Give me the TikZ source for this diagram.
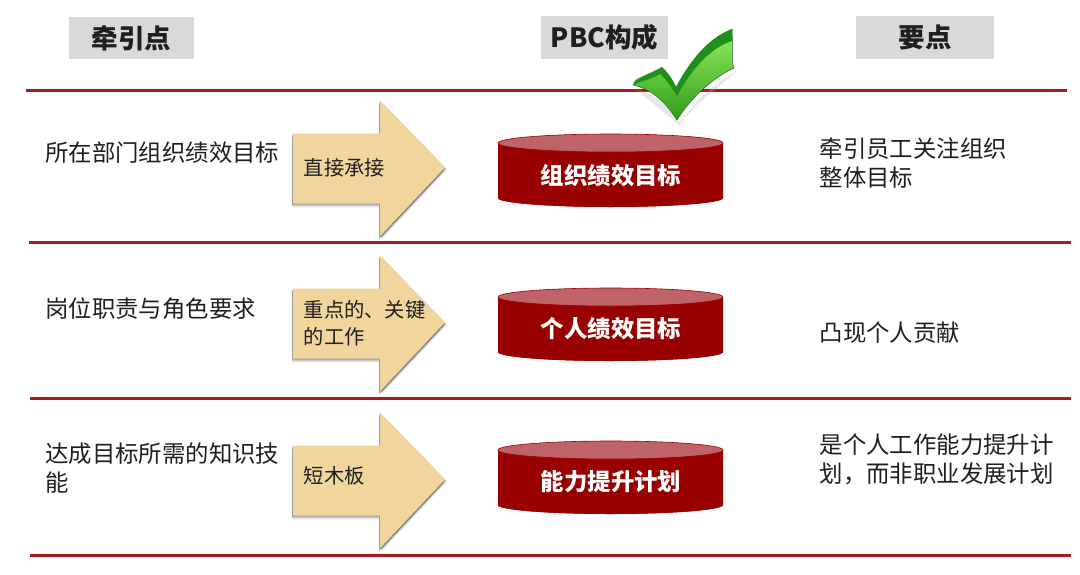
\documentclass[tikz,border=0pt]{standalone}
\usepackage{fontspec}
\setmainfont{Noto Sans CJK SC}
\usetikzlibrary{shadings}
\definecolor{rulered}{HTML}{A31D1D}
\definecolor{cylred}{HTML}{990000}
\definecolor{cyltop}{HTML}{BE6468}
\definecolor{tan}{HTML}{F0D69C}
\definecolor{hdr}{HTML}{D9D9D9}
\definecolor{ink}{HTML}{1F1F1F}
\definecolor{chkband}{HTML}{1F8F1C}
\definecolor{chklight}{HTML}{95EE62}
\definecolor{chkdark}{HTML}{2F9C1A}
\tikzset{
  x=1pt,y=-1pt,
  sep/.style={draw=rulered,line width=3pt},
  hdrbox/.style={fill=hdr,inner sep=0pt,font=\fontsize{26.5}{26}\selectfont\bfseries,text=ink},
  body/.style={anchor=north west,inner sep=0pt,align=left,font=\fontsize{23.4}{33}\selectfont,text=ink},
  arrowtext/.style={anchor=west,inner sep=0pt,align=left,font=\fontsize{20.3}{26.5}\selectfont,text=ink},
  cyltext/.style={inner sep=0pt,text=white,font=\fontsize{23.4}{24}\selectfont\bfseries},
}
\newcommand{\bigarrow}[1]{%
  \begin{scope}[yshift=-#1pt]
    \foreach \o/\a in {5/.05,4/.07,3/.09,2/.11,1/.13}{
      \fill[black,opacity=\a,xshift=-.8pt,yshift=-\o pt*.8] (293,-34)--(380,-34)--(380,-67)--(445,0)--(380,69)--(380,36)--(293,36)--cycle;
      \fill[black,opacity=\a,xshift=\o pt*.4,yshift=-\o pt*.5] (380,-67)--(445,0)--(380,69)--cycle;
    }
    \fill[tan] (293,-34)--(380,-34)--(380,-67)--(445,0)--(380,69)--(380,36)--(293,36)--cycle;
  \end{scope}}
\newcommand{\cyl}[1]{%
  \begin{scope}[yshift=-#1pt]
    \fill[cylred] (498,-27) -- (498,28) arc[start angle=180,end angle=360,x radius=112.5,y radius=-9] -- (723,-27) -- cycle;
    \fill[cylred] (498,28) arc[start angle=180,end angle=0,x radius=112.5,y radius=9] -- cycle;
    \fill[cylred] (498,-27) -- (723,-27) -- (723,28) -- (498,28) -- cycle;
    \draw[fill=cyltop,draw=cylred,line width=.6pt] (610.5,-27) ellipse[x radius=112.5,y radius=9];
  \end{scope}}
\begin{document}
\begin{tikzpicture}
\useasboundingbox (0,0) rectangle (1080,574);
\fill[white] (0,0) rectangle (1080,574);

% header boxes
\node[hdrbox,minimum width=125pt,minimum height=42pt] (h1) at (131.5,38) {\raisebox{-1pt}{牵引点}};
\node[hdrbox,minimum width=127pt,minimum height=43pt] (h2) at (604.5,37.5) {\raisebox{-.5pt}{PBC构成}};
\node[hdrbox,minimum width=138pt,minimum height=43pt] (h3) at (925,37.5) {\raisebox{-.5pt}{要点}};

% separators
\draw[sep] (26,90) -- (1067,90);
\draw[sep] (29,242) -- (1071,242);
\draw[sep] (30,398) -- (1071,398);
\draw[sep] (30,555) -- (1071,555);

% arrows
\bigarrow{167.5}
\bigarrow{322.5}
\bigarrow{479.5}

% cylinders
\cyl{170}
\cyl{324}
\cyl{477}
\node[cyltext] (c1) at (611,176) {组织绩效目标};
\node[cyltext] (c2) at (611,329) {个人绩效目标};
\node[cyltext] (c3) at (611,482) {能力提升计划};

% check mark
\fill[black!30,opacity=.3] (637,90) .. controls (655,93) and (668,106) .. (679,123) .. controls (695,102) and (715,82) .. (737,71) -- (700,102) -- (679,125) -- cycle;
\shade[top color=chklight,bottom color=chkdark]
  (633,85) .. controls (652,89) and (666,103) .. (677,120) .. controls (690,99) and (712,78) .. (734,68) .. controls (731,60) and (733,52) .. (732,29) .. controls (708,38) and (690,61) .. (676,87) .. controls (672,78) and (667,72) .. (662,67) .. controls (652,73) and (641,76) .. (635,80) -- cycle;
\fill[chkband]
  (633,85) .. controls (634,79) and (652,73) .. (662,67) .. controls (667,72) and (672,78) .. (676,87) .. controls (690,61) and (708,38) .. (732,29) -- (732,41) .. controls (712,47) and (692,68) .. (677,96) .. controls (670,85) and (666,79) .. (660,74) .. controls (652,79) and (642,81) .. (633,85) -- cycle;
\draw[chkband!80!black,line width=.5pt,line join=round]
  (633,85) .. controls (652,89) and (666,103) .. (677,120) .. controls (690,99) and (712,78) .. (734,68) .. controls (731,60) and (733,52) .. (732,29);

% left column
\node[body] (l1) at (45,142) {所在部门组织绩效目标};
\node[body] (l2) at (45,297) {岗位职责与角色要求};
\node[body,text width=236pt,font=\fontsize{23.4}{28.8}\selectfont] (l3) at (45,443) {达成目标所需的知识技\\能};

% arrow text
\node[arrowtext] (a1) at (303.5,168) {直接承接};
\node[arrowtext] (a2) at (303.5,323) {重点的、关键\\的工作};
\node[arrowtext] (a3) at (303.5,476) {短木板};

% right column
\node[body,font=\fontsize{23.4}{28.3}\selectfont] (r1) at (819.5,138) {牵引员工关注组织\\整体目标};
\node[body] (r2) at (819.5,322) {凸现个人贡献};
\node[body,font=\fontsize{23.4}{28.3}\selectfont] (r3) at (819.5,434) {是个人工作能力提升计\\划，而非职业发展计划};
\end{tikzpicture}
\end{document}
